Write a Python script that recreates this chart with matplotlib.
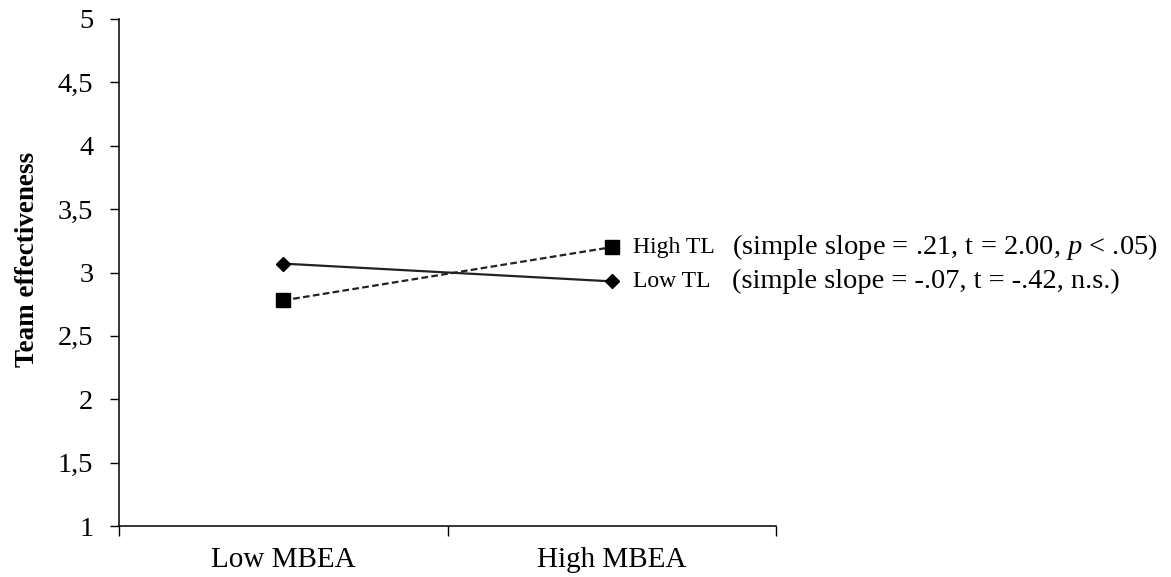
import matplotlib
matplotlib.use("Agg")
import matplotlib.pyplot as plt

plt.rcParams['font.family'] = ['Liberation Serif', 'DejaVu Serif']
plt.rcParams['mathtext.fontset'] = 'custom'
plt.rcParams['mathtext.rm'] = 'Liberation Serif'
plt.rcParams['mathtext.it'] = 'Liberation Serif:italic'

categories = ["Low MBEA", "High MBEA"]
high_tl = [2.78, 3.20]
low_tl = [3.07, 2.93]
y_ticks = [1, 1.5, 2, 2.5, 3, 3.5, 4, 4.5, 5]
y_tick_labels = ["1", "1,5", "2", "2,5", "3", "3,5", "4", "4,5", "5"]
series_names = ["High TL", "Low TL"]
series_notes = [r"(simple slope = .21, t = 2.00, $\it{p}$ < .05)",
                "(simple slope = -.07, t = -.42, n.s.)"]

fig = plt.figure(figsize=(11.71, 5.77), dpi=100)
ax = fig.add_axes([119/1171, 1 - 526/577, (776-119)/1171, (526-19)/577])

xs = [0.5, 1.5]
ax.plot(xs, high_tl, linestyle=(0, (3, 1.5)), color='#222222', lw=1.6,
        marker='s', markersize=9.5, markerfacecolor='black', markeredgecolor='black')
ax.plot(xs, low_tl, linestyle='-', color='#222222', lw=1.6,
        marker='D', markersize=7.5, markerfacecolor='black', markeredgecolor='black')

ax.set_xlim(0, 2)
ax.set_ylim(1, 5)
ax.set_xticks([0, 1, 2])
ax.set_xticklabels([])
ax.set_xticks(xs, minor=True)
ax.set_xticklabels(categories, minor=True, fontsize=21)
ax.tick_params(axis='x', which='minor', length=0, pad=15)
ax.tick_params(axis='x', which='major', length=7, direction='out', width=1)
ax.set_yticks(y_ticks)
ax.set_yticklabels(y_tick_labels, fontsize=20.5)
ax.tick_params(axis='y', length=6.5, direction='out', width=1, pad=12)
for s in ['top', 'right']:
    ax.spines[s].set_visible(False)
for s in ['left', 'bottom']:
    ax.spines[s].set_linewidth(1.1)

ax.set_ylabel("Team effectiveness", fontsize=19.5, fontweight='bold')
ax.yaxis.set_label_coords(-0.12, 0.525)

for name, note, vals in zip(series_names, series_notes, [high_tl, low_tl]):
    ax.annotate(name, xy=(xs[1], vals[1]), xytext=(15, 0), textcoords='offset points',
                fontsize=17, va='center', ha='left', annotation_clip=False)
    ax.annotate(note, xy=(xs[1], vals[1]), xytext=(86.5, 0), textcoords='offset points',
                fontsize=20.5, va='center', ha='left', annotation_clip=False)

fig.savefig("out.png", dpi=100)
